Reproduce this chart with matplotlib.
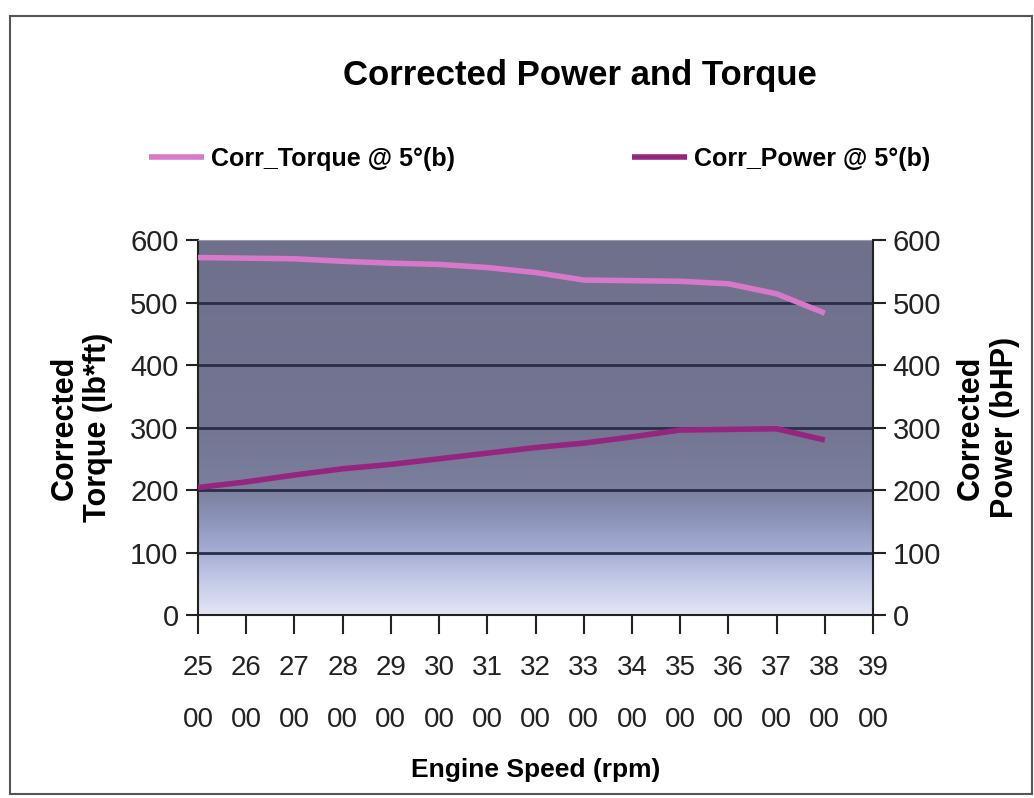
import numpy as np
import matplotlib.pyplot as plt
from matplotlib.colors import LinearSegmentedColormap
from matplotlib.patches import Rectangle

rpm = [2500, 2600, 2700, 2800, 2900, 3000, 3100, 3200, 3300, 3400, 3500, 3600, 3700, 3800]
torque = [572, 571, 570, 566, 563, 561, 556, 548, 536, 535, 534, 530, 514, 483]
power = [204, 213, 224, 234, 241, 250, 259, 268, 275, 285, 296, 297, 298, 280]
x_ticks = list(range(2500, 4000, 100))
y_ticks = [0, 100, 200, 300, 400, 500, 600]

plt.rcParams['font.family'] = ['Liberation Sans', 'DejaVu Sans']

fig = plt.figure(figsize=(10.34, 7.98), dpi=100)
ax = fig.add_axes([0.1915, 0.2293, 0.6528, 0.4699])

# gradient background of the plot area, dark at the top, pale at the bottom
bg = LinearSegmentedColormap.from_list('bg', [
    (0.0, '#e4e6f6'),
    (0.1, '#c0c6e6'),
    (0.167, '#a6aed6'),
    (0.25, '#8e95bb'),
    (0.333, '#7b809e'),
    (0.5, '#737592'),
    (1.0, '#6e708c'),
])
grad = np.linspace(0, 1, 256).reshape(-1, 1)
ax.imshow(grad, cmap=bg, origin='lower', aspect='auto',
          extent=[2500, 3900, 0, 600], zorder=0)

for v in y_ticks[1:-1]:
    ax.axhline(v, color='#2a2d46', lw=2, zorder=1)

l1, = ax.plot(rpm, torque, color='#d878c8', lw=4, zorder=3, solid_capstyle='butt')
l2, = ax.plot(rpm, power, color='#952680', lw=4, zorder=3, solid_capstyle='butt')

ax.set_xlim(2500, 3900)
ax.set_ylim(0, 600)
ax.set_xticks(x_ticks)
ax.set_xticklabels([f'{t // 100}\n00' for t in x_ticks], linespacing=2.3)
ax.set_yticks(y_ticks)
ax.tick_params(axis='x', direction='out', length=14, width=1.5, labelsize=20, pad=15,
               colors='#222222')
ax.tick_params(axis='y', direction='out', length=9, width=1.5, labelsize=21, pad=5,
               colors='#222222')
for s in ['left', 'bottom']:
    ax.spines[s].set_color('#222222')
    ax.spines[s].set_linewidth(1.5)
ax.spines['top'].set_color('#9a9aaa')
ax.spines['right'].set_visible(False)

ax2 = ax.twinx()
ax2.set_ylim(0, 600)
ax2.set_yticks(y_ticks)
ax2.tick_params(axis='y', direction='out', length=9, width=1.5, labelsize=21, pad=5,
                colors='#222222')
ax2.spines['right'].set_color('#222222')
ax2.spines['right'].set_linewidth(1.5)
for s in ['left', 'top', 'bottom']:
    ax2.spines[s].set_visible(False)

ax.set_xlabel('Engine Speed (rpm)', fontsize=19, fontweight='bold', labelpad=18)
ax.set_ylabel('Corrected\nTorque (lb*ft)', fontsize=22, fontweight='bold',
              labelpad=12, linespacing=1.15)
ax2.set_ylabel('Corrected\nPower (bHP)', fontsize=22, fontweight='bold',
               labelpad=11, linespacing=1.15, rotation=90)

fig.text(0.561, 0.905, 'Corrected Power and Torque', ha='center', va='center',
         fontsize=25, fontweight='bold')

fig.legend([l1, l2], ['Corr_Torque @ 5°(b)', 'Corr_Power @ 5°(b)'],
           loc='center', bbox_to_anchor=(0.522, 0.801), ncol=2, frameon=False,
           handlelength=2.2, handletextpad=0.28, columnspacing=7.1,
           prop={'weight': 'bold', 'size': 18})

# chart border
fig.patches.append(Rectangle((0.01, 0.005), 0.988, 0.975, transform=fig.transFigure,
                             fill=False, edgecolor='#555555', lw=1.5))

fig.savefig('out.png', dpi=100)
